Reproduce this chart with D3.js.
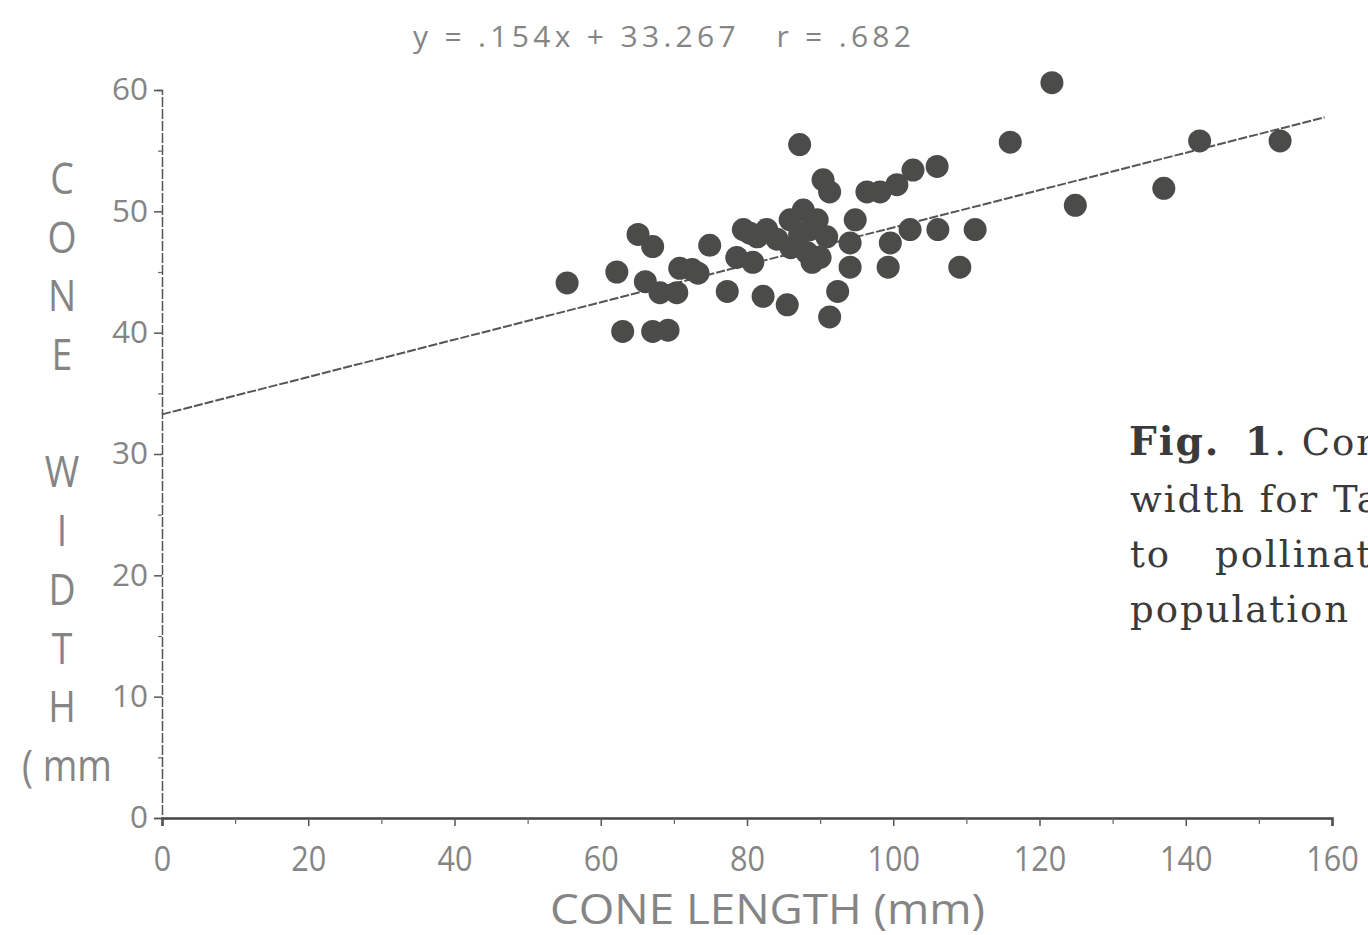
<!DOCTYPE html>
<html>
<head>
<meta charset="utf-8">
<script src="https://cdn.jsdelivr.net/npm/d3@7"></script>
<style>
  body { margin: 0; background: #fff; }
  svg { display: block; }
  .tick text { font-family: "Open Sans", sans-serif; fill: #858585; }
</style>
</head>
<body>
<div id="chart"></div>
<script>
const w = 1368, h = 935;

// cone length (mm) and cone width (mm)
const coneLength = [55.4, 62.2, 65.1, 67.1, 66.1, 63.0, 67.1, 69.2, 68.1, 70.4, 70.8, 72.5, 73.3,
  74.9, 77.3, 78.6, 80.4, 80.8, 82.2, 82.7, 84.1, 85.5, 87.2, 87.7, 89.6, 88.2, 90.0, 90.9,
  90.4, 91.3, 94.8, 94.1, 94.1, 92.4, 91.3, 96.4, 98.2, 100.5, 102.7, 106.0, 99.6, 99.3,
  102.3, 106.1, 111.2, 109.1, 116.0, 121.7, 124.9, 137.0, 141.9, 152.9, 85.9, 87.2, 88.9,
  79.5, 81.4, 86.0, 88.6];
const coneWidth = [44.1, 45.0, 48.1, 47.1, 44.2, 40.1, 40.1, 40.2, 43.3, 43.3, 45.3, 45.2, 44.9,
  47.2, 43.4, 46.2, 48.2, 45.8, 43.0, 48.5, 47.7, 42.3, 55.5, 50.1, 49.3, 46.6, 46.2, 47.9,
  52.6, 51.6, 49.3, 47.4, 45.4, 43.4, 41.3, 51.6, 51.6, 52.2, 53.4, 53.7, 47.4, 45.4,
  48.5, 48.5, 48.5, 45.4, 55.7, 60.6, 50.5, 51.9, 55.8, 55.8, 49.3, 48.1, 45.8,
  48.5, 47.9, 47.0, 48.5];

const slope = 0.154, intercept = 33.267;
const xTicks = [0, 20, 40, 60, 80, 100, 120, 140, 160];
const yTicks = [0, 10, 20, 30, 40, 50, 60];
const yLabelLetters = ['C', 'O', 'N', 'E', '', 'W', 'I', 'D', 'T', 'H', '( mm'];

const margin = {left: 162, top: 90, right: 36, bottom: 117};

const svg = d3.select('#chart').append('svg')
  .attr('width', w)
  .attr('height', h);

const x = d3.scaleLinear().domain([0, 160]).range([margin.left, w - margin.right]);
const y = d3.scaleLinear().domain([0, 60]).range([h - margin.bottom, margin.top]);

// x axis
const xAxis = svg.append('g')
  .attr('transform', 'translate(0,' + y(0) + ')')
  .call(d3.axisBottom(x).tickValues(xTicks).tickSize(8).tickPadding(20));
xAxis.select('.domain').attr('stroke', '#444').attr('stroke-width', 2.5);
xAxis.selectAll('.tick line').attr('stroke', '#555').attr('stroke-width', 1.5);
xAxis.selectAll('.tick text')
  .attr('font-size', 35)
  .attr('textLength', d => String(d).length * 17.5)
  .attr('lengthAdjust', 'spacingAndGlyphs');
svg.append('g')
  .attr('transform', 'translate(0,' + y(0) + ')')
  .call(d3.axisBottom(x).tickValues(d3.range(10, 160, 20)).tickSize(6).tickFormat(''))
  .call(g => g.select('.domain').remove())
  .selectAll('.tick line').attr('stroke', '#666').attr('stroke-width', 1.2);

// y axis
const yAxis = svg.append('g')
  .attr('transform', 'translate(' + x(0) + ',0)')
  .call(d3.axisLeft(y).tickValues(yTicks).tickSize(8).tickPadding(6));
yAxis.select('.domain').attr('stroke', '#555').attr('stroke-width', 1.5).attr('stroke-dasharray', '10,2');
yAxis.selectAll('.tick line').attr('stroke', '#555').attr('stroke-width', 1.5);
yAxis.selectAll('.tick text')
  .attr('font-size', 31)
  .attr('textLength', d => String(d).length * 18)
  .attr('lengthAdjust', 'spacingAndGlyphs');
svg.append('g')
  .attr('transform', 'translate(' + x(0) + ',0)')
  .call(d3.axisLeft(y).tickValues(d3.range(5, 60, 10)).tickSize(4).tickFormat(''))
  .call(g => g.select('.domain').remove())
  .selectAll('.tick line').attr('stroke', '#666').attr('stroke-width', 1.2);

// regression line
svg.append('line')
  .attr('x1', x(0)).attr('y1', y(intercept))
  .attr('x2', x(159)).attr('y2', y(slope * 159 + intercept))
  .attr('stroke', '#555')
  .attr('stroke-width', 2)
  .attr('stroke-dasharray', '9,2');

// points
svg.append('g')
  .selectAll('circle')
  .data(coneLength.map((d, i) => [d, coneWidth[i]]))
  .enter()
  .append('circle')
  .attr('cx', d => x(d[0]))
  .attr('cy', d => y(d[1]))
  .attr('r', 11.5)
  .attr('fill', '#4b4b49');

// equation title
svg.append('text')
  .attr('x', 413).attr('y', 47)
  .attr('font-family', 'Open Sans, sans-serif')
  .attr('font-size', 30)
  .attr('fill', '#858585')
  .attr('xml:space', 'preserve')
  .attr('textLength', 498)
  .attr('lengthAdjust', 'spacing')
  .text('y = .154x + 33.267   r = .682');

// x label
svg.append('text')
  .attr('x', 550).attr('y', 924)
  .attr('font-family', 'Open Sans, sans-serif')
  .attr('font-size', 42)
  .attr('fill', '#858585')
  .attr('textLength', 435)
  .attr('lengthAdjust', 'spacingAndGlyphs')
  .text('CONE LENGTH (mm)');

// y label, stacked letters
svg.append('g')
  .selectAll('text')
  .data(yLabelLetters)
  .enter()
  .append('text')
  .attr('x', d => d.length > 1 ? 67 : 62)
  .attr('y', (d, i) => 194 + i * 58.7)
  .attr('text-anchor', 'middle')
  .attr('font-family', 'Open Sans, sans-serif')
  .attr('font-size', 44)
  .attr('fill', '#858585')
  .attr('transform', d => 'translate(' + (d.length > 1 ? 67 : 62) * 0.15 + ',0) scale(0.85,1)')
  .text(d => d);

// figure caption (runs off the right edge, as in the scan)
const cap = svg.append('g')
  .attr('font-family', 'DejaVu Serif, serif')
  .attr('font-size', 37)
  .attr('letter-spacing', 2)
  .attr('fill', '#3a3a3a');
const l1 = cap.append('text').attr('y', 455);
l1.append('tspan').attr('x', 1129).attr('font-weight', 'bold').attr('font-size', 39).text('Fig.');
l1.append('tspan').attr('x', 1245).attr('font-weight', 'bold').attr('font-size', 39).text('1');
l1.append('tspan').text('. Cone');
cap.append('text').attr('x', 1130).attr('y', 512).text('width for Table');
const l3 = cap.append('text').attr('y', 567);
l3.append('tspan').attr('x', 1130).text('to');
l3.append('tspan').attr('x', 1215).text('pollination');
cap.append('text').attr('x', 1130).attr('y', 622).text('population');
</script>
</body>
</html>
